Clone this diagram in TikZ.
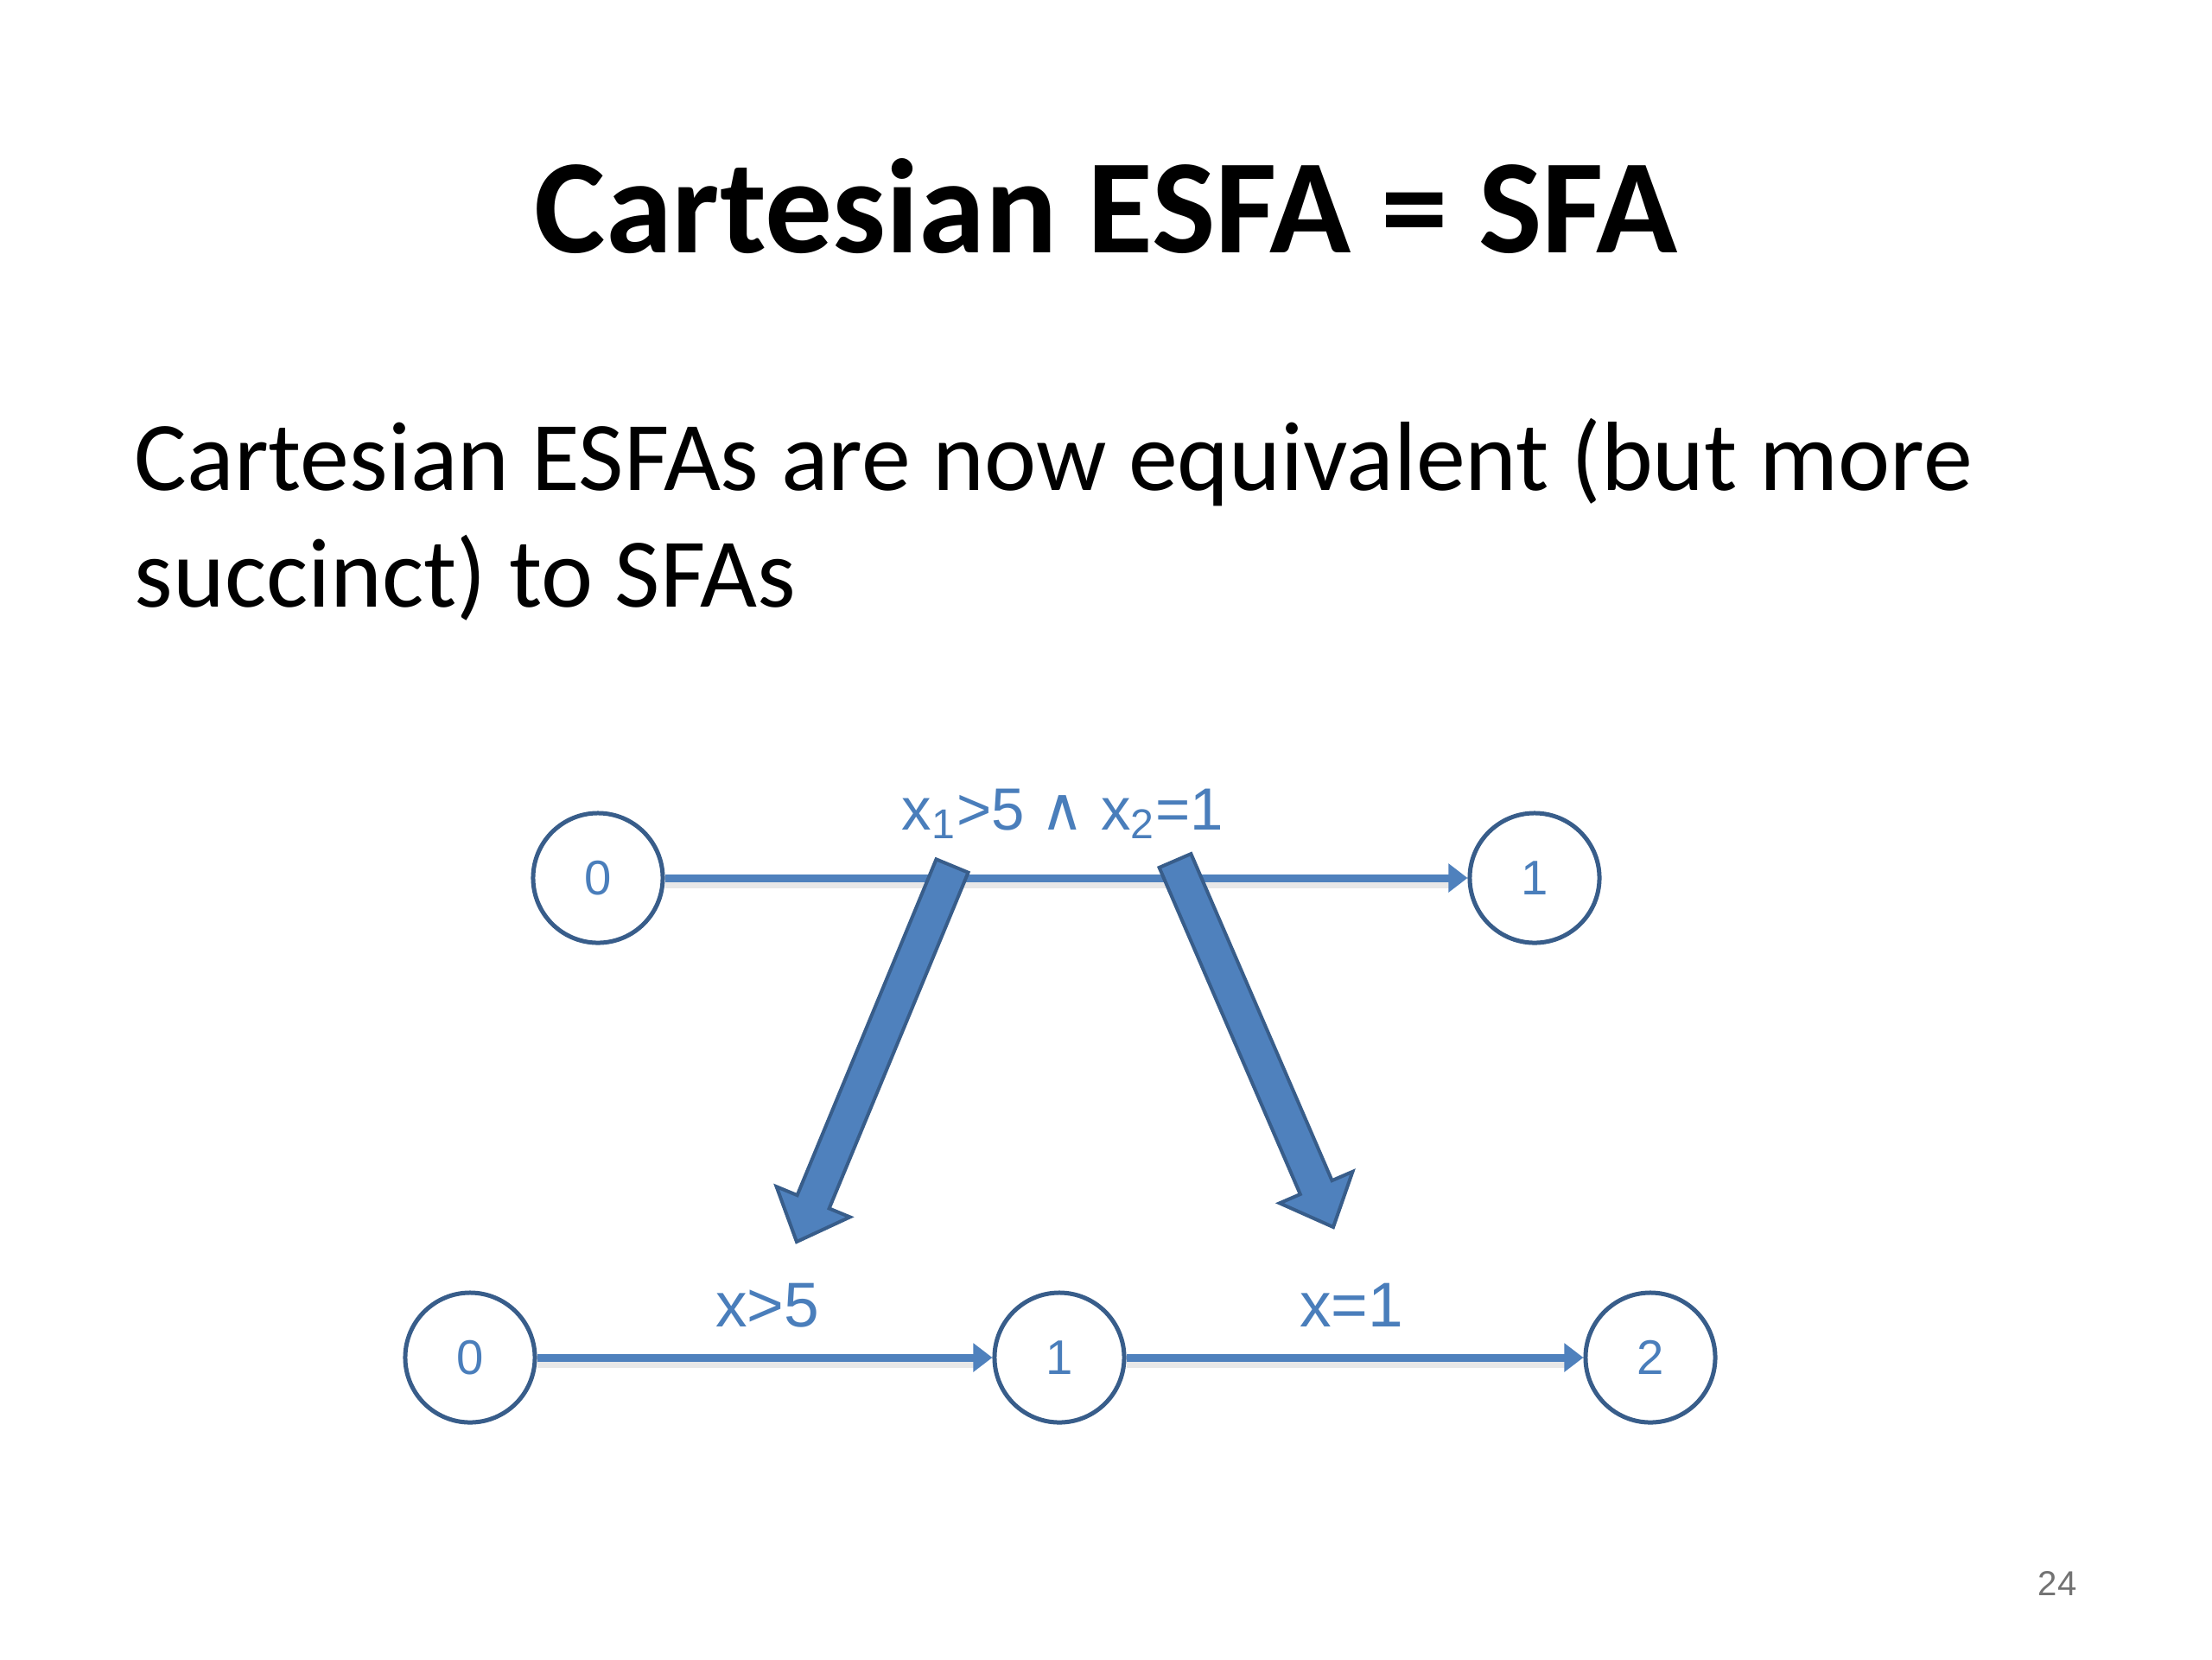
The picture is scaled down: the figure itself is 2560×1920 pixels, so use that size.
\documentclass[tikz,border=0pt]{standalone}
\usepackage{fontspec}
\setmainfont{Carlito}
\newfontfamily\arialf{Liberation Sans}
\newfontfamily\dejavuf{DejaVu Sans}
\usetikzlibrary{calc,arrows.meta}
\definecolor{linkblue}{HTML}{4F81BD}
\definecolor{darkblue}{HTML}{385D8A}
\definecolor{labblue}{HTML}{4A7EBB}
\tikzset{
  state/.style={circle, draw=darkblue, line width=0.05cm, fill=white, minimum size=1.5cm, inner sep=0pt, text=labblue, font=\arialf\fontsize{16}{18}\selectfont},
  trans/.style={draw=linkblue, line width=0.09cm, -{Triangle[length=0.22cm,width=0.32cm]}},
  shadowline/.style={draw=black!25, line width=0.09cm, opacity=0.35},
  elabel/.style={text=labblue, font=\arialf\fontsize{20.8}{24}\selectfont, anchor=base, inner sep=0pt},
  bigarrow/.style={fill=linkblue, draw=darkblue, line width=0.04cm, line join=miter},
}
\newcommand{\blockarrow}[2]{%
  \coordinate (#1H) at ($(#2)!0.5cm!(#1)$);
  \path[bigarrow] ($(#1)!0.2cm!90:(#2)$) -- ($(#1H)!0.2cm!90:(#2)$) -- ($(#1H)!0.46cm!90:(#2)$) -- (#2)
     -- ($(#1H)!0.46cm!-90:(#2)$) -- ($(#1H)!0.2cm!-90:(#2)$) -- ($(#1)!0.2cm!-90:(#2)$) -- cycle;}
\begin{document}
\begin{tikzpicture}[x=0.01cm, y=-0.01cm]
\useasboundingbox[fill=white] (0,0) rectangle (2560,1920);
% title and body text
\node[anchor=base, inner sep=0pt, font=\bfseries\fontsize{44.2}{53}\selectfont] (title) at (1280,292) {Cartesian ESFA = SFA};
\node[anchor=base west, inner sep=0pt, font=\fontsize{32.4}{40}\selectfont] (line1) at (155,567) {Cartesian ESFAs are now equivalent (but more};
\node[anchor=base west, inner sep=0pt, font=\fontsize{32.4}{40}\selectfont] (line2) at (155,702) {succinct) to SFAs};
% states
\node[state] (t0) at (692,1016) {0};
\node[state] (t1) at (1776,1016) {1};
\node[state] (b0) at (544,1571) {0};
\node[state] (b1) at (1226,1571) {1};
\node[state] (b2) at (1910,1571) {2};
% shadows
\draw[shadowline] ([yshift=-0.07cm]t0.east) -- ([yshift=-0.07cm,xshift=-0.2cm]t1.west);
\draw[shadowline] ([yshift=-0.07cm]b0.east) -- ([yshift=-0.07cm,xshift=-0.2cm]b1.west);
\draw[shadowline] ([yshift=-0.07cm]b1.east) -- ([yshift=-0.07cm,xshift=-0.2cm]b2.west);
% transitions
\draw[trans] (t0) -- (t1);
\draw[trans] (b0) -- (b1);
\draw[trans] (b1) -- (b2);
% labels
\node[elabel, font=\arialf\fontsize{19.6}{24}\selectfont] (lt) at (1230,960) {x\textsubscript{1}>5 {\dejavuf ∧} x\textsubscript{2}=1};
\node[elabel] (lb1) at (888,1535) {x>5};
\node[elabel] (lb2) at (1564,1535) {x=1};
% block arrows
\coordinate (LA) at (1102,1002);
\coordinate (LB) at (922,1437);
\coordinate (RA) at (1360,996);
\coordinate (RB) at (1543,1420);
\blockarrow{LA}{LB}
\blockarrow{RA}{RB}
% page number
\node[inner sep=0pt, text=black!55, font=\arialf\fontsize{11.4}{14}\selectfont] (pg) at (2381,1832) {24};
\end{tikzpicture}
\end{document}
